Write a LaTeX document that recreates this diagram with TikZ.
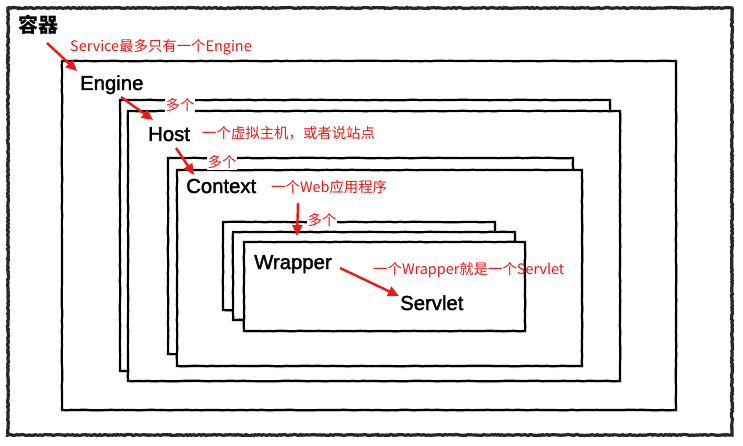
\documentclass[tikz,border=0pt]{standalone}
\usepackage{fontspec}
\setmainfont{Liberation Sans}
\newfontfamily\cjk{Noto Sans CJK SC}
\newfontfamily\medfont{Liberation Sans}[FakeBold=1.8]
\usetikzlibrary{arrows.meta,decorations.pathmorphing,shadows}
\definecolor{lblred}{RGB}{238,24,20}
\begin{document}
\begin{tikzpicture}[x=1pt,y=-1pt,
  box/.style={draw=black,line width=2.2pt,fill=white,line join=miter,
    decorate,decoration={random steps,segment length=5pt,amplitude=0.3pt},
    drop shadow={shadow xshift=1.5pt,shadow yshift=-2pt,opacity=0.25}},
  outerbox/.style={draw=black!85,line width=3.2pt,fill=white,
    decorate,decoration={random steps,segment length=1.5pt,amplitude=0.5pt}},
  title/.style={font=\medfont\fontsize{20.3}{22}\selectfont,inner sep=0pt,anchor=base west},
  redlbl/.style={text=lblred,font=\cjk\fontsize{14.4}{16}\selectfont,inner sep=0pt},
  many/.style={redlbl,fill=white,inner sep=1pt},
  redarrow/.style={draw=lblred,line width=2.4pt,-{Triangle[length=11pt,width=10pt]}}]
\pgfmathsetseed{7}
\useasboundingbox (0,0) rectangle (743,446);
% outer container
\draw[outerbox] (8,8) rectangle (732,435);
% Engine
\draw[box] (62,61) rectangle (676,410);
% Host boxes
\draw[box] (120,100) rectangle (610,371);
\draw[box] (128,111) rectangle (620,381);
% Context boxes
\draw[box] (168,158) rectangle (573,354);
\draw[box] (177,170) rectangle (582,366);
% Wrapper boxes
\draw[box] (223,222) rectangle (495,310);
\draw[box] (233,232) rectangle (515,320);
\draw[box] (244,242) rectangle (525,331);

% texts
\node[font=\cjk\bfseries\fontsize{20}{22}\selectfont,inner sep=0pt] (container) at (38,25) {容器};
\node[redlbl,anchor=west] (svclbl) at (70,47) {Service最多只有一个Engine};
\node[title] (engine) at (80,90) {Engine};
\node[many] (many1) at (180,105) {多个};
\node[title] (host) at (148,141) {Host};
\node[redlbl,anchor=west] (hostlbl) at (202,133) {一个虚拟主机，或者说站点};
\node[many] (many2) at (222,162) {多个};
\node[title] (context) at (186,193) {Context};
\node[redlbl,anchor=west] (ctxlbl) at (271,187) {一个Web应用程序};
\node[many] (many3) at (322,220) {多个};
\node[title] (wrapper) at (254,269) {Wrapper};
\node[redlbl,anchor=west] (wrplbl) at (373,270) {一个Wrapper就是一个Servlet};
\node[title] (servlet) at (400,310) {Servlet};

% arrow end points
\coordinate (a1s) at (47,43);  \coordinate (a1e) at (77,71);
\coordinate (a2s) at (121,97); \coordinate (a2e) at (153,120);
\coordinate (a3s) at (176,148);\coordinate (a3e) at (194,175);
\coordinate (a4s) at (298,203);\coordinate (a4e) at (297,236);
\coordinate (a5s) at (340,268);\coordinate (a5e) at (399,296);
\draw[redarrow] (a1s) -- (a1e);
\draw[redarrow] (a2s) -- (a2e);
\draw[redarrow] (a3s) -- (a3e);
\draw[redarrow] (a4s) -- (a4e);
\draw[redarrow] (a5s) -- (a5e);
\end{tikzpicture}
\end{document}
